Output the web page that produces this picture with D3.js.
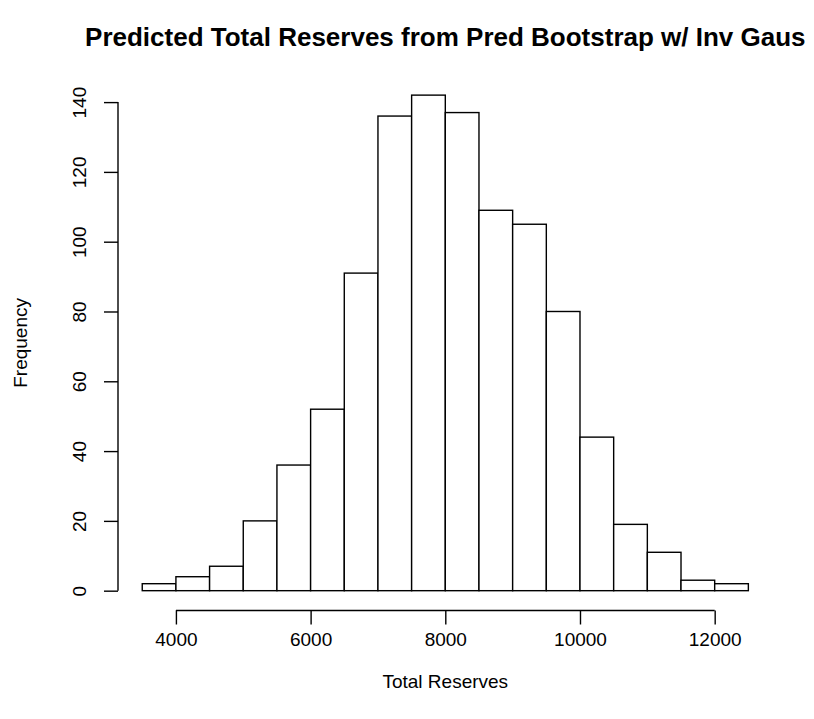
<!DOCTYPE html>
<html>
<head>
<meta charset="utf-8">
<script src="https://cdn.jsdelivr.net/npm/d3@7"></script>
<style>
  body { margin: 0; background: #fff; }
  text { font-family: "Liberation Sans", Arial, Helvetica, sans-serif; fill: #000; }
</style>
</head>
<body>
<div id="chart"></div>
<script>
// histogram data
var breaks = [3500, 4000, 4500, 5000, 5500, 6000, 6500, 7000, 7500, 8000,
              8500, 9000, 9500, 10000, 10500, 11000, 11500, 12000, 12500];
var counts = [2, 4, 7, 20, 36, 52, 91, 136, 142, 137, 109, 105, 80, 44, 19, 11, 3, 2];
var xTicks = [4000, 6000, 8000, 10000, 12000];
var yTicks = [0, 20, 40, 60, 80, 100, 120, 140];

var width = 814, height = 719;
var plot = {left: 118, right: 772.6, top: 75.3, bottom: 610.5};

var svg = d3.select("#chart")
  .append("svg")
    .attr("width", width)
    .attr("height", height);

// R style: extend range by 4% on each side
var xmin = breaks[0], xmax = breaks[breaks.length - 1];
var xpad = (xmax - xmin) * 0.04;
var x = d3.scaleLinear()
  .domain([xmin - xpad, xmax + xpad])
  .range([plot.left, plot.right]);

var ymax = d3.max(counts);
var y = d3.scaleLinear()
  .domain([-ymax * 0.04, ymax * 1.04])
  .range([plot.bottom, plot.top]);

var bins = counts.map(function(c, i) { return {x0: breaks[i], x1: breaks[i + 1], n: c}; });

// bars
svg.append("g")
  .selectAll("rect")
  .data(bins)
  .enter()
  .append("rect")
    .attr("x", function(d) { return x(d.x0); })
    .attr("y", function(d) { return y(d.n); })
    .attr("width", function(d) { return x(d.x1) - x(d.x0); })
    .attr("height", function(d) { return y(0) - y(d.n); })
    .attr("fill", "#fff")
    .attr("stroke", "#000")
    .attr("stroke-width", 1.4);

// x-axis
var xAxis = svg.append("g")
  .attr("transform", "translate(0," + plot.bottom + ")")
  .call(d3.axisBottom(x).tickValues(xTicks).tickFormat(d3.format("d"))
    .tickSize(14).tickPadding(8).tickSizeOuter(0));
xAxis.select(".domain")
  .attr("d", "M" + x(xTicks[0]) + ",0H" + x(xTicks[xTicks.length - 1]));
xAxis.selectAll("line, path").attr("stroke", "#000").attr("stroke-width", 1.4);
xAxis.selectAll("text")
  .style("font-size", "19px")
  .attr("dy", "0.71em");

// y-axis
var yAxis = svg.append("g")
  .attr("transform", "translate(" + plot.left + ",0)")
  .call(d3.axisLeft(y).tickValues(yTicks).tickFormat(d3.format("d"))
    .tickSize(14).tickSizeOuter(0));
yAxis.select(".domain")
  .attr("d", "M0," + y(yTicks[0]) + "V" + y(yTicks[yTicks.length - 1]));
yAxis.selectAll("line, path").attr("stroke", "#000").attr("stroke-width", 1.4);
yAxis.selectAll("text")
  .style("font-size", "19px")
  .attr("x", null)
  .attr("dy", null)
  .attr("text-anchor", "middle")
  .attr("transform", "translate(-32,0) rotate(-90)");

// title and axis labels
svg.append("text")
  .attr("x", (plot.left + plot.right) / 2)
  .attr("y", 46)
  .attr("text-anchor", "middle")
  .style("font-size", "26px")
  .style("font-weight", "bold")
  .text("Predicted Total Reserves from Pred Bootstrap w/ Inv Gaus");

svg.append("text")
  .attr("x", (plot.left + plot.right) / 2)
  .attr("y", 688)
  .attr("text-anchor", "middle")
  .style("font-size", "19px")
  .text("Total Reserves");

svg.append("text")
  .attr("transform", "translate(27," + ((plot.top + plot.bottom) / 2) + ") rotate(-90)")
  .attr("text-anchor", "middle")
  .style("font-size", "19px")
  .text("Frequency");
</script>
</body>
</html>
